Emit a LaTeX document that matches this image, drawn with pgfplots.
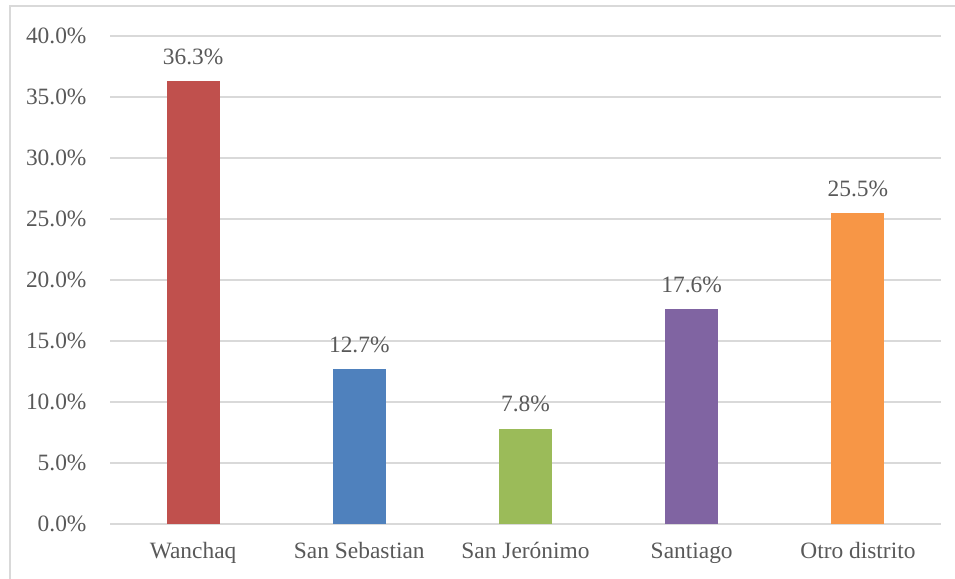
\documentclass[border=0pt]{standalone}
\usepackage{fontspec}
\setmainfont{Liberation Serif}
\usepackage{pgfplots}
\pgfplotsset{compat=1.18}
\definecolor{c1}{HTML}{C0504D}
\definecolor{c2}{HTML}{4F81BD}
\definecolor{c3}{HTML}{9BBB59}
\definecolor{c4}{HTML}{8064A2}
\definecolor{c5}{HTML}{F79646}
\definecolor{txt}{HTML}{595959}
\definecolor{gridc}{HTML}{D9D9D9}
\begin{document}
\begin{tikzpicture}[x=1bp,y=1bp]
\useasboundingbox (0,0) rectangle (955,579);
\draw[gridc, line width=1.5bp] (10,-5) -- (10,573) -- (960,573);
\begin{axis}[
  at={(110bp,55bp)}, anchor=south west,
  scale only axis,
  width=831bp, height=488bp,
  xmin=-0.5, xmax=4.5,
  ymin=0, ymax=40,
  ytick={0,5,...,40},
  yticklabel={\pgfmathprintnumber[fixed,fixed zerofill,precision=1]{\tick}\%},
  xtick={0,1,2,3,4},
  xticklabels={Wanchaq, San Sebastian, San Jerónimo, Santiago, Otro distrito},
  /pgf/number format/assume math mode=true,
  ymajorgrids, xmajorgrids=false,
  grid style={draw=gridc, line width=1.5bp},
  axis line style={draw=none},
  major tick length=0pt,
  tick label style={font=\fontsize{23.5}{28}\selectfont, text=txt},
  yticklabel style={xshift=-20bp},
  xticklabel style={yshift=-15bp},
  clip=false,
]
\addplot[ybar, bar width=53bp, draw=none, fill=c1] coordinates {(0,36.3)};
\addplot[ybar, bar width=53bp, draw=none, fill=c2] coordinates {(1,12.7)};
\addplot[ybar, bar width=53bp, draw=none, fill=c3] coordinates {(2,7.8)};
\addplot[ybar, bar width=53bp, draw=none, fill=c4] coordinates {(3,17.6)};
\addplot[ybar, bar width=53bp, draw=none, fill=c5] coordinates {(4,25.5)};
\addplot[only marks, mark=none,
  nodes near coords={\pgfmathprintnumber[fixed,fixed zerofill,precision=1]{\pgfplotspointmeta}\%},
  point meta=explicit,
  nodes near coords style={font=\fontsize{23.5}{28}\selectfont, text=txt, anchor=south, yshift=13bp},
] coordinates {(0,36.3)[36.3] (1,12.7)[12.7] (2,7.8)[7.8] (3,17.6)[17.6] (4,25.5)[25.5]};
\end{axis}
\end{tikzpicture}
\end{document}
